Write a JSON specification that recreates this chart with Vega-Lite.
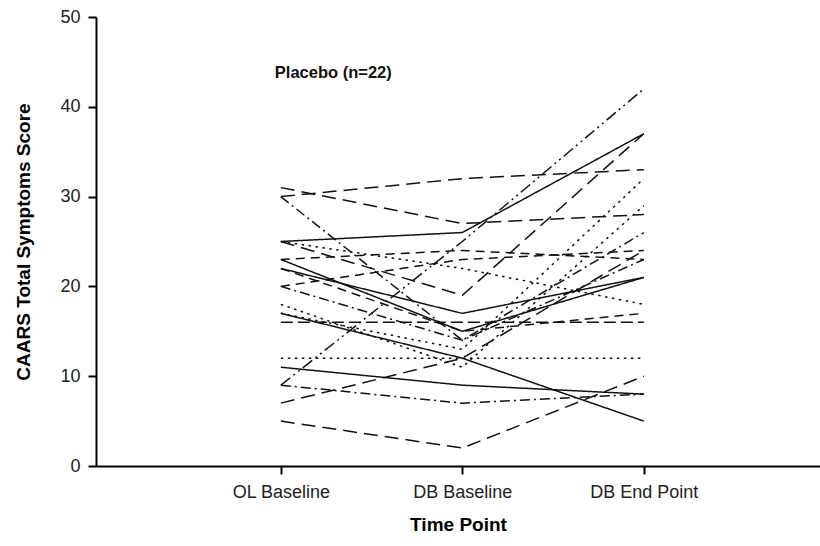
{
  "$schema": "https://vega.github.io/schema/vega-lite/v6.json",
  "width": 724,
  "height": 449,
  "autosize": {"type": "none"},
  "padding": {"left": 96, "top": 17, "right": 0, "bottom": 80},
  "background": "white",
  "config": {
    "view": {"stroke": null},
    "font": "Liberation Sans",
    "axis": {"grid": false, "domainColor": "#000", "domainWidth": 2, "tickColor": "#000", "tickWidth": 2, "tickSize": 8, "labelColor": "#222", "labelFont": "Liberation Sans", "labelFontSize": 18, "titleFont": "Liberation Sans", "titleColor": "#000", "titleFontWeight": "bold", "titleFontSize": 19}
  },
  "layer": [
    {
      "data": {"values": [
        {"id": 1, "t": "OL Baseline", "v": 30, "s": "longdash"}, {"id": 1, "t": "DB Baseline", "v": 32, "s": "longdash"}, {"id": 1, "t": "DB End Point", "v": 33, "s": "longdash"},
        {"id": 2, "t": "OL Baseline", "v": 31, "s": "longdash"}, {"id": 2, "t": "DB Baseline", "v": 27, "s": "longdash"}, {"id": 2, "t": "DB End Point", "v": 28, "s": "longdash"},
        {"id": 3, "t": "OL Baseline", "v": 30, "s": "dashdot"}, {"id": 3, "t": "DB Baseline", "v": 14, "s": "dashdot"}, {"id": 3, "t": "DB End Point", "v": 26, "s": "dashdot"},
        {"id": 4, "t": "OL Baseline", "v": 25, "s": "solid"}, {"id": 4, "t": "DB Baseline", "v": 26, "s": "solid"}, {"id": 4, "t": "DB End Point", "v": 37, "s": "solid"},
        {"id": 5, "t": "OL Baseline", "v": 25, "s": "dot"}, {"id": 5, "t": "DB Baseline", "v": 22, "s": "dot"}, {"id": 5, "t": "DB End Point", "v": 18, "s": "dot"},
        {"id": 6, "t": "OL Baseline", "v": 23, "s": "dash"}, {"id": 6, "t": "DB Baseline", "v": 24, "s": "dash"}, {"id": 6, "t": "DB End Point", "v": 23, "s": "dash"},
        {"id": 7, "t": "OL Baseline", "v": 25, "s": "longdash"}, {"id": 7, "t": "DB Baseline", "v": 19, "s": "longdash"}, {"id": 7, "t": "DB End Point", "v": 37, "s": "longdash"},
        {"id": 8, "t": "OL Baseline", "v": 9, "s": "dashdotdot"}, {"id": 8, "t": "DB Baseline", "v": 25, "s": "dashdotdot"}, {"id": 8, "t": "DB End Point", "v": 42, "s": "dashdotdot"},
        {"id": 9, "t": "OL Baseline", "v": 16, "s": "bold"}, {"id": 9, "t": "DB Baseline", "v": 16, "s": "bold"}, {"id": 9, "t": "DB End Point", "v": 16, "s": "bold"},
        {"id": 10, "t": "OL Baseline", "v": 12, "s": "dot"}, {"id": 10, "t": "DB Baseline", "v": 12, "s": "dot"}, {"id": 10, "t": "DB End Point", "v": 12, "s": "dot"},
        {"id": 11, "t": "OL Baseline", "v": 11, "s": "solid"}, {"id": 11, "t": "DB Baseline", "v": 9, "s": "solid"}, {"id": 11, "t": "DB End Point", "v": 8, "s": "solid"},
        {"id": 12, "t": "OL Baseline", "v": 9, "s": "dashdot"}, {"id": 12, "t": "DB Baseline", "v": 7, "s": "dashdot"}, {"id": 12, "t": "DB End Point", "v": 8, "s": "dashdot"},
        {"id": 13, "t": "OL Baseline", "v": 5, "s": "longdash"}, {"id": 13, "t": "DB Baseline", "v": 2, "s": "longdash"}, {"id": 13, "t": "DB End Point", "v": 10, "s": "longdash"},
        {"id": 14, "t": "OL Baseline", "v": 17, "s": "solid"}, {"id": 14, "t": "DB Baseline", "v": 12, "s": "solid"}, {"id": 14, "t": "DB End Point", "v": 5, "s": "solid"},
        {"id": 15, "t": "OL Baseline", "v": 22, "s": "solid"}, {"id": 15, "t": "DB Baseline", "v": 17, "s": "solid"}, {"id": 15, "t": "DB End Point", "v": 21, "s": "solid"},
        {"id": 16, "t": "OL Baseline", "v": 18, "s": "dot"}, {"id": 16, "t": "DB Baseline", "v": 11, "s": "dot"}, {"id": 16, "t": "DB End Point", "v": 29, "s": "dot"},
        {"id": 17, "t": "OL Baseline", "v": 17, "s": "dot"}, {"id": 17, "t": "DB Baseline", "v": 13, "s": "dot"}, {"id": 17, "t": "DB End Point", "v": 32, "s": "dot"},
        {"id": 18, "t": "OL Baseline", "v": 7, "s": "longdash"}, {"id": 18, "t": "DB Baseline", "v": 12, "s": "longdash"}, {"id": 18, "t": "DB End Point", "v": 24, "s": "longdash"},
        {"id": 19, "t": "OL Baseline", "v": 20, "s": "dash"}, {"id": 19, "t": "DB Baseline", "v": 23, "s": "dash"}, {"id": 19, "t": "DB End Point", "v": 24, "s": "dash"},
        {"id": 20, "t": "OL Baseline", "v": 22, "s": "dash"}, {"id": 20, "t": "DB Baseline", "v": 15, "s": "dash"}, {"id": 20, "t": "DB End Point", "v": 17, "s": "dash"},
        {"id": 21, "t": "OL Baseline", "v": 20, "s": "dashdot"}, {"id": 21, "t": "DB Baseline", "v": 14, "s": "dashdot"}, {"id": 21, "t": "DB End Point", "v": 23, "s": "dashdot"},
        {"id": 22, "t": "OL Baseline", "v": 23, "s": "solid"}, {"id": 22, "t": "DB Baseline", "v": 15, "s": "solid"}, {"id": 22, "t": "DB End Point", "v": 21, "s": "solid"}
      ]},
      "mark": {"type": "line", "color": "#111", "strokeCap": "butt"},
      "encoding": {
        "x": {"field": "t", "type": "ordinal", "sort": ["OL Baseline", "DB Baseline", "DB End Point"],
              "scale": {"type": "point", "padding": 0.9945, "align": 0.512},
              "axis": {"title": "Time Point", "labelAngle": 0, "labelPadding": 9, "titlePadding": 14}},
        "y": {"field": "v", "type": "quantitative", "scale": {"domain": [0, 50], "nice": false},
              "axis": {"title": "CAARS Total Symptoms Score", "values": [0, 10, 20, 30, 40, 50], "labelPadding": 8, "titlePadding": 26}},
        "detail": {"field": "id", "type": "nominal"},
        "strokeDash": {"field": "s", "type": "nominal", "legend": null,
          "scale": {"domain": ["solid", "longdash", "dash", "dot", "dashdot", "dashdotdot", "bold"],
                    "range": [[1, 0], [14, 7], [9, 6], [2.5, 4.5], [10, 4, 2, 4], [12, 4, 2, 4, 2, 4], [12, 5]]}},
        "strokeWidth": {"field": "s", "type": "nominal", "legend": null,
          "scale": {"domain": ["solid", "longdash", "dash", "dot", "dashdot", "dashdotdot", "bold"],
                    "range": [1.5, 1.5, 1.5, 2.6, 1.5, 1.6, 3.2]}}
      }
    },
    {
      "data": {"values": [{"t": "OL Baseline", "v": 43.8, "label": "Placebo (n=22)"}]},
      "mark": {"type": "text", "align": "left", "baseline": "middle", "dx": -6, "fontSize": 16.5, "fontWeight": "bold", "font": "Liberation Sans", "color": "#111"},
      "encoding": {
        "x": {"field": "t", "type": "ordinal", "sort": ["OL Baseline", "DB Baseline", "DB End Point"]},
        "y": {"field": "v", "type": "quantitative"},
        "text": {"field": "label"}
      }
    }
  ]
}
